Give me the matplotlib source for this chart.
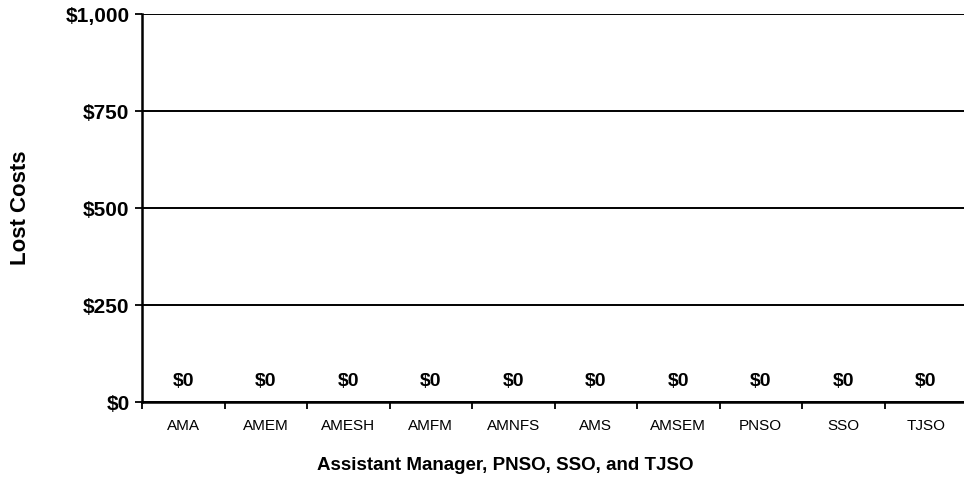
import matplotlib.pyplot as plt
import numpy as np

plt.rcParams["font.family"] = ["Liberation Sans", "DejaVu Sans"]

categories = ["AMA", "AMEM", "AMESH", "AMFM", "AMNFS", "AMS", "AMSEM", "PNSO", "SSO", "TJSO"]
lost_costs = [0, 0, 0, 0, 0, 0, 0, 0, 0, 0]
y_ticks = [0, 250, 500, 750, 1000]

fig = plt.figure(figsize=(9.64, 4.9), dpi=100)
ax = fig.add_axes([142 / 964, 88 / 490, 825 / 964, 388 / 490])

x = np.arange(len(categories))
ax.bar(x, lost_costs, width=0.6, color="#9999ff", edgecolor="black")

# value labels above each (empty) bar
for xi, v in zip(x, lost_costs):
    ax.annotate(f"${v:,.0f}", (xi, v), xytext=(0, 9), textcoords="offset points",
                ha="center", va="bottom", fontsize=14, fontweight="bold")

ax.set_xlim(-0.5, len(categories) - 0.5)
ax.set_ylim(0, 1000)
ax.set_yticks(y_ticks)
ax.set_yticklabels([f"${t:,}" for t in y_ticks], fontsize=15, fontweight="bold")
ax.yaxis.grid(True, color="black", linewidth=1.4)
ax.set_axisbelow(True)

ax.set_xticks(x)
ax.set_xticklabels(categories, fontsize=11)
ax.set_xticks(np.arange(len(categories) + 1) - 0.5, minor=True)
ax.tick_params(axis="x", which="major", length=0, pad=12)
ax.tick_params(axis="x", which="minor", length=5, width=1.3, direction="out")
ax.tick_params(axis="y", length=5, width=1.3, direction="out", pad=4)

for s in ["top", "right"]:
    ax.spines[s].set_visible(False)
for s in ["left", "bottom"]:
    ax.spines[s].set_linewidth(1.8)

ax.set_ylabel("Lost Costs", fontsize=16, fontweight="bold")
ax.yaxis.set_label_coords(-121 / 825, 0.5)
ax.set_xlabel("Assistant Manager, PNSO, SSO, and TJSO", fontsize=13.5, fontweight="bold")
ax.xaxis.set_label_coords((505 - 142) / 825, -(465 - 402) / 388)
ax.xaxis.label.set_va("center")
ax.yaxis.label.set_va("center")

fig.savefig("out.png", dpi=100)
